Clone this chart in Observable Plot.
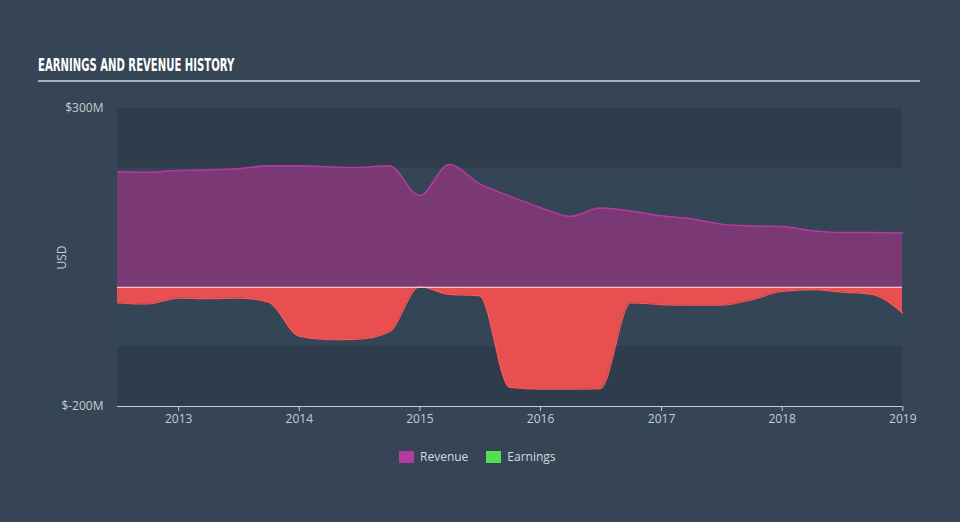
<!DOCTYPE html>
<html>
<head>
<meta charset="utf-8">
<script src="https://cdn.jsdelivr.net/npm/d3@7"></script>
<script src="https://cdn.jsdelivr.net/npm/@observablehq/plot@0.6"></script>
<style>
  html, body { margin: 0; padding: 0; background: #354555; }
  #wrap { position: relative; width: 960px; height: 522px; background: #354555; overflow: hidden; font-family: "Open Sans", Lato, sans-serif; }
  #title { position: absolute; left: 38px; top: 55px; color: #ffffff; font-family: "DejaVu Sans Condensed", "DejaVu Sans", sans-serif; font-weight: bold; font-size: 17px; white-space: nowrap; transform: scaleX(0.66); transform-origin: left top; }
  #rule { position: absolute; left: 38px; top: 80px; width: 882px; height: 2px; background: #a9b0b8; }
  #chart { position: absolute; left: 0; top: 0; }
  #legend { position: absolute; top: 448px; left: 399px; display: flex; gap: 18px; color: #d6dade; font-size: 12px; }
  .item { display: flex; align-items: center; gap: 6px; }
  .sw { width: 15px; height: 12px; display: inline-block; }
</style>
</head>
<body>
<div id="wrap">
  <div id="title">EARNINGS AND REVENUE HISTORY</div>
  <div id="rule"></div>
  <div id="chart"></div>
  <div id="legend"></div>
</div>
<script>
// ---- data ----
const dates = ["2012-06-30","2012-09-30","2012-12-31","2013-03-31","2013-06-30","2013-09-30","2013-12-31",
  "2014-03-31","2014-06-30","2014-09-30","2014-12-31","2015-03-31","2015-06-30","2015-09-30","2015-12-31",
  "2016-03-31","2016-06-30","2016-09-30","2016-12-31","2017-03-31","2017-06-30","2017-09-30","2017-12-31",
  "2018-03-31","2018-06-30","2018-09-30","2018-12-31"];
const revenue = [194,193,196,197,199,204,204,202,201,204,154,206,174,153,134,119,133,128,120,115,106,103,102,95,92,92,91];
const earnings = [-26,-28,-18,-19,-18,-25,-82,-88,-87,-75,1,-12,-14,-168,-171,-171,-170,-26,-29,-30,-30,-21,-7,-4,-8,-12,-43];
const yTicks = [300, -200];
const yDomain = [-200, 300];
const bandEdges = [[200, 300], [-100, 200], [-200, -100]];
const seriesNames = ["Revenue", "Earnings"];
const xTickYears = ["2013","2014","2015","2016","2017","2018","2019"];

const parse = d3.utcParse("%Y-%m-%d");
const rows = dates.map((d, i) => ({date: parse(d), revenue: revenue[i], earnings: earnings[i]}));
const bands = bandEdges.map(([a, b]) => ({y1: a, y2: b}));
const xTicks = xTickYears.map(y => d3.utcParse("%Y")(y));

const colRevFill = "#7a3874", colRevStroke = "#b53aa0";
const colEarnFill = "#e84f51", colEarnStroke = "#ff5656";
const colEarnLegend = "#52e052";
const axisColor = "#c6ccd2";

const chart = Plot.plot({
  width: 960,
  height: 440,
  marginTop: 108,
  marginBottom: 34,
  marginLeft: 117,
  marginRight: 58,
  style: {background: "transparent", color: axisColor, fontFamily: "'Open Sans', Lato, sans-serif", fontSize: "12px"},
  x: {type: "utc", domain: [rows[0].date, rows[rows.length - 1].date]},
  y: {domain: yDomain},
  marks: [
    Plot.rect(bands, {y1: "y1", y2: "y2", fill: (d, i) => i % 2 ? "#344555" : "#2e3c4b"}),
    Plot.areaY(rows, {x: "date", y1: 0, y2: "revenue", fill: colRevFill, curve: "monotone-x"}),
    Plot.lineY(rows, {x: "date", y: "revenue", stroke: colRevStroke, strokeWidth: 1.5, curve: "monotone-x"}),
    Plot.areaY(rows, {x: "date", y1: 0, y2: "earnings", fill: colEarnFill, curve: "monotone-x"}),
    Plot.lineY(rows, {x: "date", y: "earnings", stroke: colEarnStroke, strokeWidth: 1.2, curve: "monotone-x"}),
    Plot.ruleY([0], {stroke: "#e8e8e8", strokeWidth: 1}),
    Plot.axisX({ticks: xTicks, tickFormat: d3.utcFormat("%Y"), tickSize: 5, tickPadding: 3, stroke: axisColor, fill: axisColor, label: null}),
    Plot.ruleY([yDomain[0]], {stroke: axisColor, strokeWidth: 1.2}),
    Plot.axisY({ticks: yTicks, tickFormat: d => "$" + d + "M", tickSize: 0, tickPadding: 14, fill: axisColor,
      label: "USD", labelAnchor: "center", labelOffset: 60, labelArrow: "none"})
  ]
});
document.getElementById("chart").appendChild(chart);

const legend = document.getElementById("legend");
const legendCols = [colRevStroke, colEarnLegend];
seriesNames.forEach((name, i) => {
  const it = document.createElement("div");
  it.className = "item";
  const sw = document.createElement("span");
  sw.className = "sw";
  sw.style.background = legendCols[i];
  const t = document.createElement("span");
  t.textContent = name;
  it.appendChild(sw); it.appendChild(t);
  legend.appendChild(it);
});
</script>
</body>
</html>
